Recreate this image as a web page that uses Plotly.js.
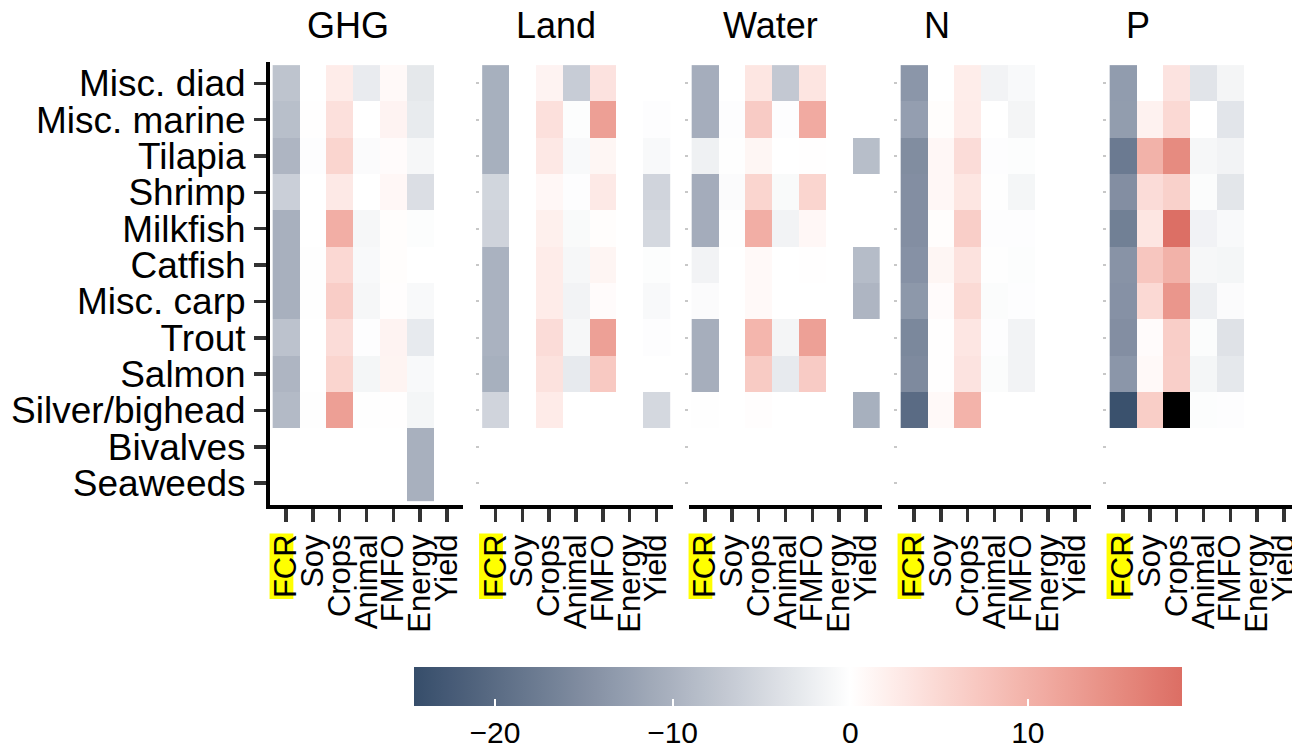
<!DOCTYPE html>
<html><head><meta charset="utf-8">
<script src="https://cdn.plot.ly/plotly-3.0.1.min.js"></script>
<style>html,body{margin:0;padding:0;background:#fff}#chart{width:1292px;height:746px}</style>
</head><body><div id="chart"></div>
<script>
// ---------------- data ----------------
const rows = ["Misc. diad","Misc. marine","Tilapia","Shrimp","Milkfish","Catfish","Misc. carp","Trout","Salmon","Silver/bighead","Bivalves","Seaweeds"];
const cols = ["FCR","Soy","Crops","Animal","FMFO","Energy","Yield"];
const panelNames = ["GHG","Land","Water","N","P"];

const ghg = [
  [-7.6, 0.0, 2.5, -2.5, 0.8, -3.0, null],
  [-8.3, 0.1, 4.0, 0.0, 1.5, -2.6, null],
  [-9.6, -0.2, 5.5, -0.5, 0.5, -1.0, null],
  [-6.2, 0.0, 2.8, 0.0, 1.0, -4.2, null],
  [-10.2, 0.0, 10.5, -1.0, 0.3, -0.3, null],
  [-10.2, -0.1, 5.0, -0.8, 0.3, 0.0, null],
  [-10.2, -0.1, 6.5, -1.0, 0.2, -0.8, null],
  [-7.9, 0.0, 4.5, -0.2, 1.5, -2.7, null],
  [-9.6, 0.0, 5.5, -1.2, 1.4, -0.8, null],
  [-9.0, -0.1, 12.5, -0.1, 0.1, -1.2, null],
  [null, null, null, null, null, -10.2, null],
  [null, null, null, null, null, -10.2, null]
];
const land = [
  [-10.3, null, 1.5, -6.5, 3.7, null, null],
  [-10.3, null, 4.0, -0.3, 12.5, null, -0.2],
  [-10.3, null, 3.0, -0.8, 1.2, null, -0.8],
  [-5.3, null, 1.0, -0.2, 2.8, null, -5.5],
  [-5.6, null, 2.0, -0.7, 0.3, null, -5.0],
  [-10.0, null, 2.5, -1.0, 1.3, null, -0.3],
  [-10.0, null, 2.5, -1.5, 0.5, null, -0.8],
  [-10.0, null, 4.5, -1.0, 12.3, null, -0.2],
  [-10.3, null, 3.8, -2.7, 7.0, null, 0.0],
  [-5.5, null, 2.6, 0.0, 0.0, null, -5.0],
  [null, null, null, null, null, null, null],
  [null, null, null, null, null, null, null]
];
const water = [
  [-10.6, null, 3.3, -7.0, 3.4, null, null],
  [-10.6, -0.2, 6.7, -0.2, 11.0, null, null],
  [-1.8, -0.1, 1.2, 0.0, 0.1, null, -8.5],
  [-10.8, -0.5, 5.5, -0.7, 5.5, null, null],
  [-10.8, -0.1, 10.5, -1.5, 1.0, null, null],
  [-1.5, 0.0, 0.8, 0.0, 0.1, null, -8.7],
  [-0.5, 0.0, 0.8, 0.0, 0.0, null, -9.6],
  [-10.5, 0.0, 9.5, -1.3, 12.3, null, null],
  [-10.5, 0.0, 6.8, -2.7, 6.7, null, null],
  [-0.1, 0.0, 0.2, null, null, null, -10.3],
  [null, null, null, null, null, null, null],
  [null, null, null, null, null, null, null]
];
const nitrogen = [
  [-13.8, 0.0, 2.3, -1.5, -0.8, null, null],
  [-12.7, 0.3, 2.5, 0.0, -1.3, null, null],
  [-15.1, 1.0, 4.5, -0.2, -0.3, null, null],
  [-14.9, 1.0, 3.3, -0.1, -1.2, null, null],
  [-14.9, 0.3, 6.3, -0.2, -0.2, null, null],
  [-14.4, 1.2, 3.8, -0.1, -0.3, null, null],
  [-13.6, 0.5, 4.8, -0.4, -0.2, null, null],
  [-15.8, 0.1, 3.2, -0.2, -1.5, null, null],
  [-15.5, 0.1, 3.6, -0.4, -1.5, null, null],
  [-20.0, 0.8, 9.9, 0.0, 0.0, null, null],
  [null, null, null, null, null, null, null],
  [null, null, null, null, null, null, null]
];
const phosphorus = [
  [-13.0, null, 3.6, -3.4, -1.3, null, null],
  [-12.9, 1.7, 4.9, 0.0, -3.3, null, null],
  [-17.8, 10.0, 15.0, -1.0, -1.5, null, null],
  [-14.9, 4.5, 6.0, -0.4, -3.2, null, null],
  [-17.0, 3.3, 18.6, -1.6, -0.8, null, null],
  [-14.2, 7.4, 10.0, -1.0, -1.2, null, null],
  [-14.4, 4.9, 13.6, -2.0, -0.5, null, null],
  [-14.9, 0.5, 6.3, -0.4, -3.7, null, null],
  [-13.8, 0.8, 6.2, -1.2, -2.9, null, null],
  [-24.0, 6.4, 26.0, -0.3, -0.2, null, null],
  [null, null, null, null, null, null, null],
  [null, null, null, null, null, null, null]
];
const panelData = [ghg, land, water, nitrogen, phosphorus];

const colorMin = -24.56, colorMax = 18.68;
const colorTicks = [-20, -10, 0, 10];
const lowColor = "#364d6a", midColor = "#ffffff", highColor = "#dc6e64";

// ---------------- colour helpers (CIELAB interpolation, like ggplot) ----------------
function hex2rgb(h){h=h.replace('#','');return [0,2,4].map(i=>parseInt(h.substr(i,2),16));}
function s2l(c){c/=255;return c<=0.04045?c/12.92:Math.pow((c+0.055)/1.055,2.4);}
function l2s(c){c=c<=0.0031308?12.92*c:1.055*Math.pow(c,1/2.4)-0.055;return Math.round(Math.max(0,Math.min(1,c))*255);}
function rgb2lab(rgb){const R=s2l(rgb[0]),G=s2l(rgb[1]),B=s2l(rgb[2]);
  const X=(0.4124*R+0.3576*G+0.1805*B)/0.95047,Y=0.2126*R+0.7152*G+0.0722*B,Z=(0.0193*R+0.1192*G+0.9505*B)/1.08883;
  const f=t=>t>0.008856?Math.cbrt(t):7.787*t+16/116;const fx=f(X),fy=f(Y),fz=f(Z);
  return [116*fy-16,500*(fx-fy),200*(fy-fz)];}
function lab2rgb(lab){const fy=(lab[0]+16)/116,fx=fy+lab[1]/500,fz=fy-lab[2]/200;
  const fi=t=>t*t*t>0.008856?t*t*t:(t-16/116)/7.787;
  const X=fi(fx)*0.95047,Y=fi(fy),Z=fi(fz)*1.08883;
  const R=3.2406*X-1.5372*Y-0.4986*Z,G=-0.9689*X+1.8758*Y+0.0415*Z,B=0.0557*X-0.2040*Y+1.0570*Z;
  return 'rgb('+l2s(R)+','+l2s(G)+','+l2s(B)+')';}
function mixLab(a,b,t){const A=rgb2lab(hex2rgb(a)),B=rgb2lab(hex2rgb(b));return lab2rgb(A.map((v,i)=>v+(B[i]-v)*t));}
const colorscale=[];
const NS=24;
for(let i=0;i<=NS;i++){const v=colorMin*(1-i/NS);colorscale.push([(v-colorMin)/(colorMax-colorMin),mixLab(midColor,lowColor,-v/(-colorMin))]);}
for(let i=1;i<=NS;i++){const v=colorMax*i/NS;colorscale.push([(v-colorMin)/(colorMax-colorMin),mixLab(midColor,highColor,v/colorMax)]);}
colorscale[colorscale.length-1][0]=1;

// ---------------- geometry ----------------
const W=1292,H=746;
const panelLeft=[270,479.5,689,898,1107];
const panelWidth=193;
const yTop=61.5,yBottom=505;
const titleX=[348,556,770,937,1137.5];

const traces=[];
const layout={
  width:W,height:H,margin:{l:0,r:0,t:0,b:0,autoexpand:false},
  paper_bgcolor:'#ffffff',plot_bgcolor:'rgba(0,0,0,0)',showlegend:false,
  font:{family:'Liberation Sans, Arial, sans-serif',color:'#000'},
  coloraxis:{colorscale:colorscale,cmin:colorMin,cmax:colorMax,
    colorbar:{orientation:'h',x:414/W,xanchor:'left',y:1-667/H,yanchor:'top',
      len:768,lenmode:'pixels',thickness:39,thicknessmode:'pixels',outlinewidth:0,xpad:0,ypad:0,
      tickmode:'array',tickvals:colorTicks,ticks:'inside',ticklen:7,tickwidth:2,tickcolor:'#ffffff',
      tickfont:{size:30,color:'#000'}}},
  annotations:[],shapes:[]
};

panelData.forEach((z,p)=>{
  const xs=p?'x'+(p+1):'x', ys=p?'y'+(p+1):'y';
  traces.push({type:'heatmap',x:cols,y:rows,z:z,xaxis:xs,yaxis:ys,coloraxis:'coloraxis',hoverinfo:'skip',xgap:0,ygap:0});
  const over=z.map(r=>r.map(v=>(v!==null&&v>colorMax)?1:null));
  if(over.some(r=>r.some(v=>v!==null))){
    traces.push({type:'heatmap',x:cols,y:rows,z:over,xaxis:xs,yaxis:ys,colorscale:[[0,'#000'],[1,'#000']],zmin:0,zmax:1,showscale:false,hoverinfo:'skip'});
  }
  const left=panelLeft[p];
  const right=Math.min(W,left+panelWidth);
  const unit=panelWidth/7.2;
  const xr=[-0.6,-0.6+(right-left)/unit];
  const xname=p?'xaxis'+(p+1):'xaxis', yname=p?'yaxis'+(p+1):'yaxis';
  layout[xname]={domain:[left/W,right/W],range:xr,autorange:false,type:'category',categoryarray:cols,
    tickmode:'array',tickvals:cols,ticktext:cols,
    anchor:ys,showline:true,linecolor:'#000',linewidth:4,ticks:'outside',ticklen:13,tickwidth:3.5,
    tickcolor:'#333',tickangle:-90,tickfont:{size:31,color:'#000'},
    showgrid:false,zeroline:false,fixedrange:true};
  layout[yname]={domain:[1-yBottom/H,1-yTop/H],range:[11.6,-0.6],autorange:false,type:'category',categoryarray:rows,
    tickmode:'array',tickvals:rows,ticktext:rows,
    anchor:xs,showgrid:false,zeroline:false,fixedrange:true};
  if(p===0){
    Object.assign(layout[yname],{showline:true,linecolor:'#000',linewidth:4,ticks:'outside',ticklen:12,tickwidth:3.5,
      tickcolor:'#333',tickfont:{size:37,color:'#000'},ticklabelstandoff:1});
  } else {
    Object.assign(layout[yname],{showline:false,ticks:'outside',ticklen:3,tickwidth:2,tickcolor:'#c8c8c8',showticklabels:false});
  }
  layout.annotations.push({text:panelNames[p],x:titleX[p]/W,y:1-25.5/H,xref:'paper',yref:'paper',
    xanchor:'center',yanchor:'middle',showarrow:false,font:{size:36,color:'#000'}});
});

Plotly.newPlot('chart',traces,layout,{staticPlot:true}).then(gd=>{
  const box=gd.getBoundingClientRect();
  const shapes=[];
  gd.querySelectorAll('text').forEach(t=>{
    if(t.textContent==='FCR'){
      const r=t.getBoundingClientRect();
      const l=r.left-box.left, rr=r.right-box.left, tp=r.top-box.top, bt=r.bottom-box.top;
      const w=rr-l;
      shapes.push({type:'rect',xref:'paper',yref:'paper',layer:'below',
        x0:(l+0.04*w)/W,x1:(l+0.72*w)/W,y0:1-(bt+1)/H,y1:1-(tp-1)/H,fillcolor:'#ffff00',line:{width:0}});
    }
  });
  Plotly.relayout(gd,{shapes:shapes});
});
</script>
</body></html>
